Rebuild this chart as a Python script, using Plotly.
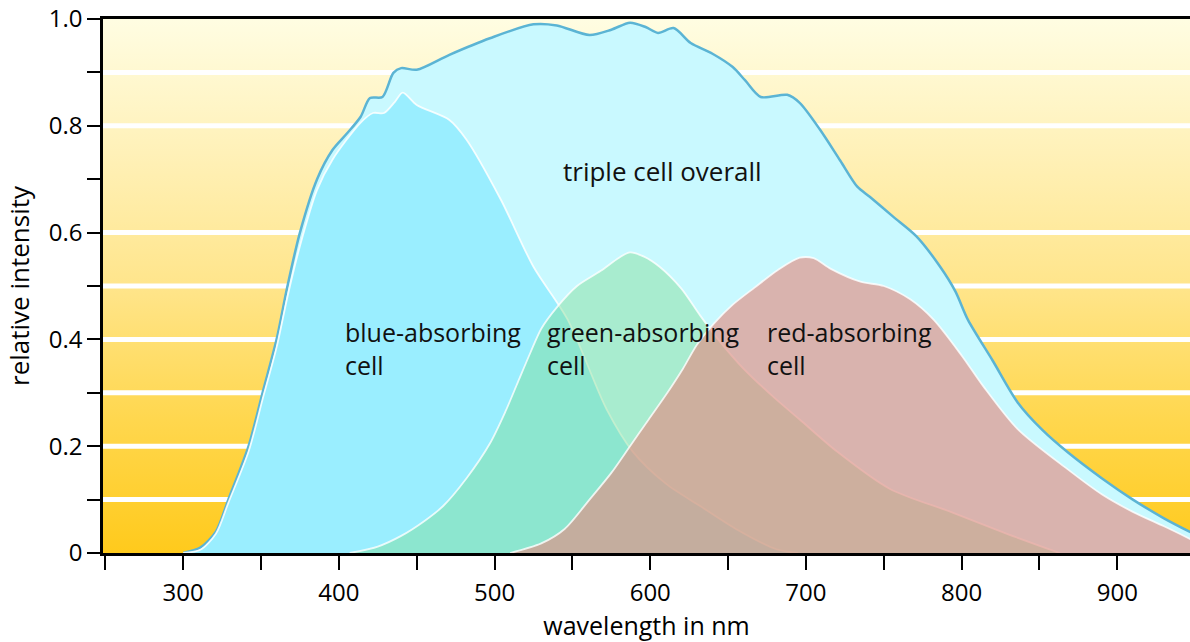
import plotly.graph_objects as go

# ---- data ----
overall_wl = [300, 311, 321, 329, 342, 351, 360, 367, 375, 386, 396, 405, 414, 420, 428, 435, 440, 450,
              471, 497, 525, 540, 561, 575, 587, 597, 605, 615, 626, 640, 653, 661, 671, 688, 696, 709, 722, 733,
              741, 756, 771, 786, 796, 804, 820, 836, 852, 868, 890, 910, 930, 947]
overall_val = [0.0, 0.01, 0.04, 0.10, 0.20, 0.30, 0.40, 0.50, 0.60, 0.70, 0.755, 0.785, 0.817, 0.852,
               0.854, 0.899, 0.908, 0.905, 0.933, 0.964, 0.990, 0.988, 0.970, 0.980, 0.993, 0.985, 0.974, 0.983,
               0.955, 0.935, 0.910, 0.885, 0.854, 0.858, 0.843, 0.793, 0.735, 0.686, 0.667, 0.630, 0.593, 0.537,
               0.490, 0.437, 0.360, 0.282, 0.230, 0.189, 0.140, 0.100, 0.065, 0.039]

blue_wl = [300, 311, 321, 329, 342, 351, 360, 367, 375, 386, 396, 414, 422, 429, 436, 441, 450, 471, 482, 504,
           525, 547, 572, 589, 610, 632, 655, 681, 695]
blue_val = [0.0, 0.006, 0.036, 0.094, 0.19, 0.288, 0.385, 0.48, 0.575, 0.68, 0.737, 0.806, 0.824, 0.824, 0.845,
            0.862, 0.839, 0.811, 0.774, 0.662, 0.536, 0.437, 0.269, 0.189, 0.13, 0.088, 0.045, 0.007, 0.0]

green_wl = [407, 425, 440, 455, 467, 482, 497, 507, 515, 523, 530, 540, 553, 568, 580, 587, 596, 606, 620, 632,
            645, 660, 680, 696, 720, 754, 793, 830, 863]
green_val = [0.0, 0.012, 0.032, 0.06, 0.088, 0.14, 0.205, 0.265, 0.32, 0.375, 0.42, 0.46, 0.50, 0.528, 0.553,
             0.563, 0.555, 0.536, 0.495, 0.445, 0.395, 0.345, 0.29, 0.25, 0.19, 0.12, 0.077, 0.035, 0.0]

red_wl = [510, 530, 545, 561, 575, 587, 599, 611, 621, 630, 641, 653, 667, 682, 696, 705, 716, 735, 750, 767,
          782, 800, 814, 836, 868, 890, 910, 930, 947]
red_val = [0.0, 0.018, 0.045, 0.10, 0.15, 0.20, 0.25, 0.30, 0.345, 0.39, 0.43, 0.465, 0.497, 0.53, 0.553, 0.552,
           0.532, 0.508, 0.50, 0.475, 0.437, 0.37, 0.312, 0.232, 0.157, 0.11, 0.077, 0.05, 0.026]

x_ticks = [300, 400, 500, 600, 700, 800, 900]
y_ticks = [0, 0.2, 0.4, 0.6, 0.8, 1.0]
y_tick_text = ["0", "0.2", "0.4", "0.6", "0.8", "1.0"]
band_lines = [0.1, 0.2, 0.3, 0.4, 0.5, 0.6, 0.8, 0.9]

X_RANGE = [248.5, 946.7]
FONT = "Open Sans"

fig = go.Figure()

# gradient background
fig.add_trace(go.Scatter(
    x=[X_RANGE[0], X_RANGE[1], X_RANGE[1], X_RANGE[0]], y=[0, 0, 1, 1],
    fill="toself", mode="lines", line=dict(width=0),
    fillgradient=dict(type="vertical", start=0, stop=1,
                      colorscale=[[0, "#FFCA1C"], [0.25, "#FFD74E"], [0.5, "#FFE58B"],
                                  [0.75, "#FFF1B8"], [1, "#FFFDE2"]]),
    hoverinfo="skip", showlegend=False))

# white horizontal bands
bx, by = [], []
for v in band_lines:
    bx += [X_RANGE[0], X_RANGE[1], None]
    by += [v, v, None]
fig.add_trace(go.Scatter(x=bx, y=by, mode="lines", line=dict(color="white", width=5),
                         hoverinfo="skip", showlegend=False))

SM = 0.8
# triple cell overall
fig.add_trace(go.Scatter(x=overall_wl, y=overall_val, fill="tozeroy", mode="lines",
                         line=dict(color="#5BB4D4", width=2.5, shape="spline", smoothing=SM),
                         fillcolor="#C9F9FF", name="triple cell overall"))
# blue-absorbing cell
fig.add_trace(go.Scatter(x=blue_wl, y=blue_val, fill="tozeroy", mode="lines",
                         line=dict(color="rgba(255,255,255,0.85)", width=1.8, shape="spline", smoothing=SM),
                         fillcolor="#9AEEFF", name="blue-absorbing cell"))
# green-absorbing cell
fig.add_trace(go.Scatter(x=green_wl, y=green_val, fill="tozeroy", mode="lines",
                         line=dict(color="rgba(255,255,255,0.8)", width=1.8, shape="spline", smoothing=SM),
                         fillcolor="rgba(121,217,134,0.40)", name="green-absorbing cell"))
# red-absorbing cell
fig.add_trace(go.Scatter(x=red_wl, y=red_val, fill="tozeroy", mode="lines",
                         line=dict(color="rgba(255,255,255,0.8)", width=1.8, shape="spline", smoothing=SM),
                         fillcolor="rgba(224,143,132,0.66)", name="red-absorbing cell"))

labels = [
    (544, 0.715, "triple cell overall", 26),
    (404, 0.383, "blue-absorbing<br>cell", 25),
    (534, 0.383, "green-absorbing<br>cell", 25),
    (675, 0.383, "red-absorbing<br>cell", 25),
]
for x, y, t, s in labels:
    fig.add_annotation(x=x, y=y, text=t, showarrow=False, xanchor="left", yanchor="middle",
                       align="left", xshift=-2, font=dict(family=FONT, size=s, color="#111"))

fig.update_xaxes(range=X_RANGE, tickvals=x_ticks, ticks="outside", ticklen=14, tickwidth=2,
                 tickcolor="black", showline=True, linecolor="black", linewidth=2.5, mirror=True,
                 showgrid=False, zeroline=False, ticklabelstandoff=2,
                 minor=dict(dtick=50, ticks="outside", ticklen=14, tickwidth=2, tickcolor="black"),
                 tickfont=dict(family=FONT, size=24, color="black"),
                 title=dict(text="wavelength in nm", font=dict(family=FONT, size=25, color="black"),
                            standoff=4))
fig.update_yaxes(range=[0, 1], tickvals=y_ticks, ticktext=y_tick_text, ticks="outside", ticklen=13,
                 tickwidth=2, tickcolor="black", showline=True, linecolor="black", linewidth=2.5,
                 showgrid=False, zeroline=False,
                 minor=dict(dtick=0.1, ticks="outside", ticklen=13, tickwidth=2, tickcolor="black"),
                 tickfont=dict(family=FONT, size=24, color="black"),
                 title=dict(text="relative intensity", font=dict(family=FONT, size=26, color="black"),
                            standoff=12))

fig.update_layout(width=1190, height=642, margin=dict(l=103, r=0, t=19, b=89, autoexpand=False),
                  paper_bgcolor="white", plot_bgcolor="white", showlegend=False)

fig.write_html("out.html", config={"displayModeBar": False},
               post_script="document.body.style.margin='0';document.body.style.overflow='hidden';")
